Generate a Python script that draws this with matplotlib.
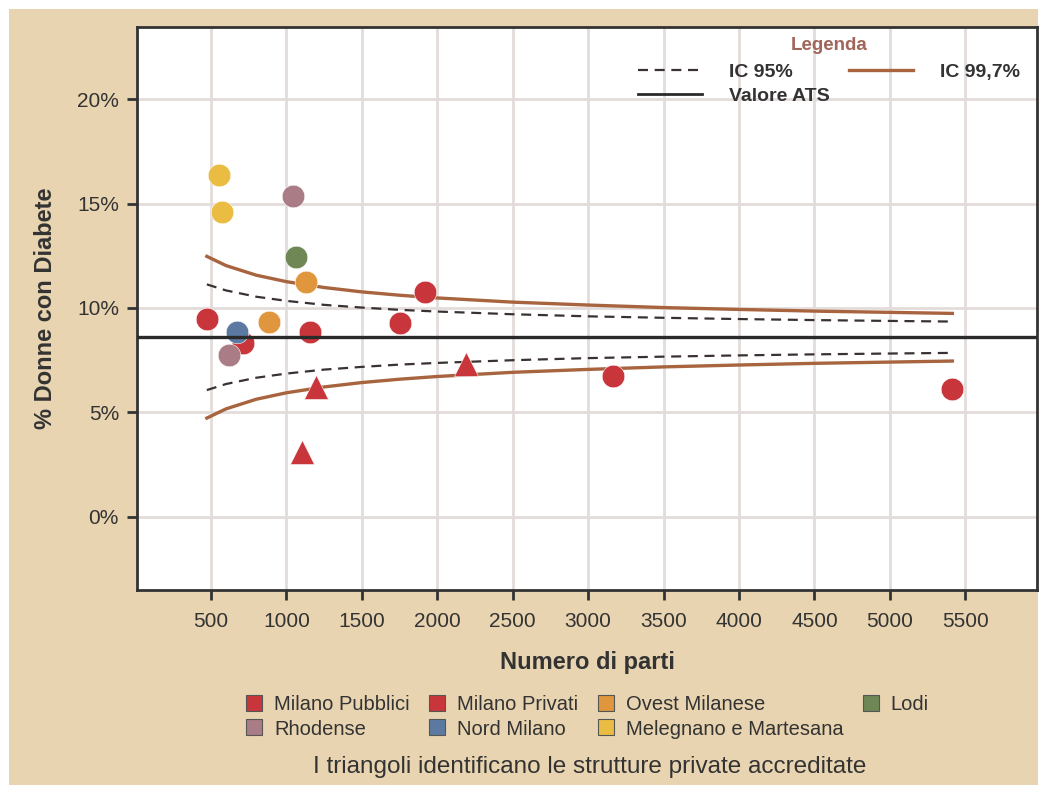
import matplotlib
matplotlib.use("Agg")
import matplotlib.pyplot as plt
from matplotlib.lines import Line2D
from matplotlib.patches import Rectangle

# --- data -------------------------------------------------------------
groups = ["Milano Pubblici", "Milano Privati", "Ovest Milanese", "Lodi",
          "Rhodense", "Nord Milano", "Melegnano e Martesana"]
group_colors = ["#C8363B", "#C8363B", "#E0963C", "#6E8755",
                "#A97C86", "#5B79A1", "#EABD42"]

# births per structure, % women with diabetes, group, private accredited
births = [473, 712, 1157, 1753, 1919, 3166, 5414,
          1196, 1103, 2191,
          1130, 885,
          1064,
          1044, 619,
          672,
          553, 573]
diabetes_pct = [9.47, 8.33, 8.85, 9.28, 10.77, 6.75, 6.12,
                6.20, 3.12, 7.32,
                11.24, 9.33,
                12.44,
                15.36, 7.75,
                8.85,
                16.36, 14.60]
structure_group = ["Milano Pubblici", "Milano Pubblici", "Milano Pubblici",
                   "Milano Privati", "Milano Pubblici", "Milano Pubblici",
                   "Milano Pubblici",
                   "Milano Privati", "Milano Privati", "Milano Privati",
                   "Ovest Milanese", "Ovest Milanese",
                   "Lodi",
                   "Rhodense", "Rhodense",
                   "Nord Milano",
                   "Melegnano e Martesana", "Melegnano e Martesana"]
accredited = [False] * 7 + [True] * 3 + [False] * 8

ats_value = 8.6

# control limits along the number of births
ci_births = [473, 600, 800, 1000, 1250, 1500, 1750, 2000, 2500,
             3000, 3500, 4000, 4500, 5000, 5414]
ci95_upper = [11.13, 10.84, 10.54, 10.34, 10.15, 10.02, 9.91, 9.83, 9.70,
              9.60, 9.53, 9.47, 9.42, 9.38, 9.35]
ci95_lower = [6.07, 6.36, 6.66, 6.86, 7.05, 7.18, 7.29, 7.37, 7.50,
              7.60, 7.67, 7.73, 7.78, 7.82, 7.85]
ci997_upper = [12.47, 12.03, 11.57, 11.26, 10.98, 10.77, 10.61, 10.48, 10.28,
               10.14, 10.02, 9.93, 9.85, 9.79, 9.74]
ci997_lower = [4.73, 5.17, 5.63, 5.94, 6.22, 6.43, 6.59, 6.72, 6.92,
               7.06, 7.18, 7.27, 7.35, 7.41, 7.46]

x_ticks = [500, 1000, 1500, 2000, 2500, 3000, 3500, 4000, 4500, 5000, 5500]
y_ticks = [0, 5, 10, 15, 20]

# --- style ------------------------------------------------------------
BG = "#E8D4B0"
DARK = "#333333"
BROWN = "#A8643F"
GRID = "#E2DCDA"
DASH = (0, (4.5, 3))
SANS = ["Liberation Sans", "DejaVu Sans"]

plt.rcParams["font.family"] = SANS

fig = plt.figure(figsize=(10.4, 7.85), dpi=100, facecolor="white")
fig.patches.append(Rectangle((9 / 1040, 0), 1 - 11 / 1040, 1 - 9 / 785,
                             transform=fig.transFigure, facecolor=BG,
                             edgecolor="none", zorder=-10))

ax = fig.add_axes([137 / 1040, 1 - 590 / 785, 900 / 1040, 563 / 785])
ax.set_facecolor("white")

ax.set_xlim(10, 5975)
ax.set_ylim(-3.5, 23.45)
ax.set_xticks(x_ticks)
ax.set_yticks(y_ticks)
ax.set_yticklabels([f"{v}%" for v in y_ticks])
ax.grid(True, color=GRID, linewidth=2.0, zorder=0)
ax.set_axisbelow(True)

for s in ax.spines.values():
    s.set_color(DARK)
    s.set_linewidth(2.0)
ax.tick_params(axis="both", direction="out", length=7, width=2.0,
               color=DARK, labelsize=15, labelcolor=DARK)
ax.tick_params(axis="x", pad=9)
ax.tick_params(axis="y", pad=6)

# control limits
ax.plot(ci_births, ci95_upper, color="#3A3232", lw=1.6, ls=DASH, zorder=2)
ax.plot(ci_births, ci95_lower, color="#3A3232", lw=1.6, ls=DASH, zorder=2)
ax.plot(ci_births, ci997_upper, color=BROWN, lw=2.4, zorder=2)
ax.plot(ci_births, ci997_lower, color=BROWN, lw=2.4, zorder=2)

# structures
color_of = dict(zip(groups, group_colors))
for xv, yv, g, acc in zip(births, diabetes_pct, structure_group, accredited):
    ax.scatter([xv], [yv], s=300 if acc else 265,
               marker="^" if acc else "o", color=color_of[g],
               edgecolors="white", linewidths=0.4, zorder=3)

# regional value
ax.axhline(ats_value, color="#2A2A2A", lw=2.4, zorder=4)

ax.set_xlabel("Numero di parti", fontsize=17, fontweight="bold",
              color=DARK, labelpad=14)
ax.set_ylabel("% Donne con Diabete", fontsize=17, fontweight="bold",
              color=DARK, labelpad=14)

# legend of the reference lines
line_handles = [
    Line2D([], [], color="#3A3232", lw=1.6, ls=DASH),
    Line2D([], [], color="#2A2A2A", lw=2.0),
    Line2D([], [], color=BROWN, lw=2.4),
]
line_labels = ["IC 95%", "Valore ATS", "IC 99,7%"]
leg1 = ax.legend(line_handles, line_labels, ncol=2, loc="upper right",
                 bbox_to_anchor=(1.0, 1.012), frameon=False,
                 title="Legenda", handlelength=3.3, handletextpad=1.4,
                 columnspacing=1.0, labelspacing=0.3, borderpad=0.35,
                 prop={"size": 14, "weight": "bold"})
leg1.get_title().set_color("#A0665A")
leg1.get_title().set_fontweight("bold")
leg1.get_title().set_fontsize(13.5)
leg1._legend_box.sep = 7
for t in leg1.get_texts():
    t.set_color(DARK)

# legend of the groups, below the chart
order = [0, 4, 1, 5, 2, 6, 3]
grp_handles = [Line2D([], [], marker="s", ls="none", markersize=11,
                      markerfacecolor=group_colors[i],
                      markeredgecolor="#555555", markeredgewidth=0.8)
               for i in order]
grp_labels = [groups[i] for i in order]
leg2 = fig.legend(grp_handles, grp_labels, ncol=4, loc="center",
                  bbox_to_anchor=(0.564, 1 - 717 / 785), frameon=False,
                  handlelength=1.0, handletextpad=0.5, columnspacing=0.85,
                  labelspacing=0.25, prop={"size": 14.5})
for t in leg2.get_texts():
    t.set_color(DARK)

fig.text(590 / 1040, 1 - 767 / 785,
         "I triangoli identificano le strutture private accreditate",
         ha="center", va="center", fontsize=17.5, color=DARK)

fig.savefig("out.png", dpi=100, facecolor=fig.get_facecolor())
